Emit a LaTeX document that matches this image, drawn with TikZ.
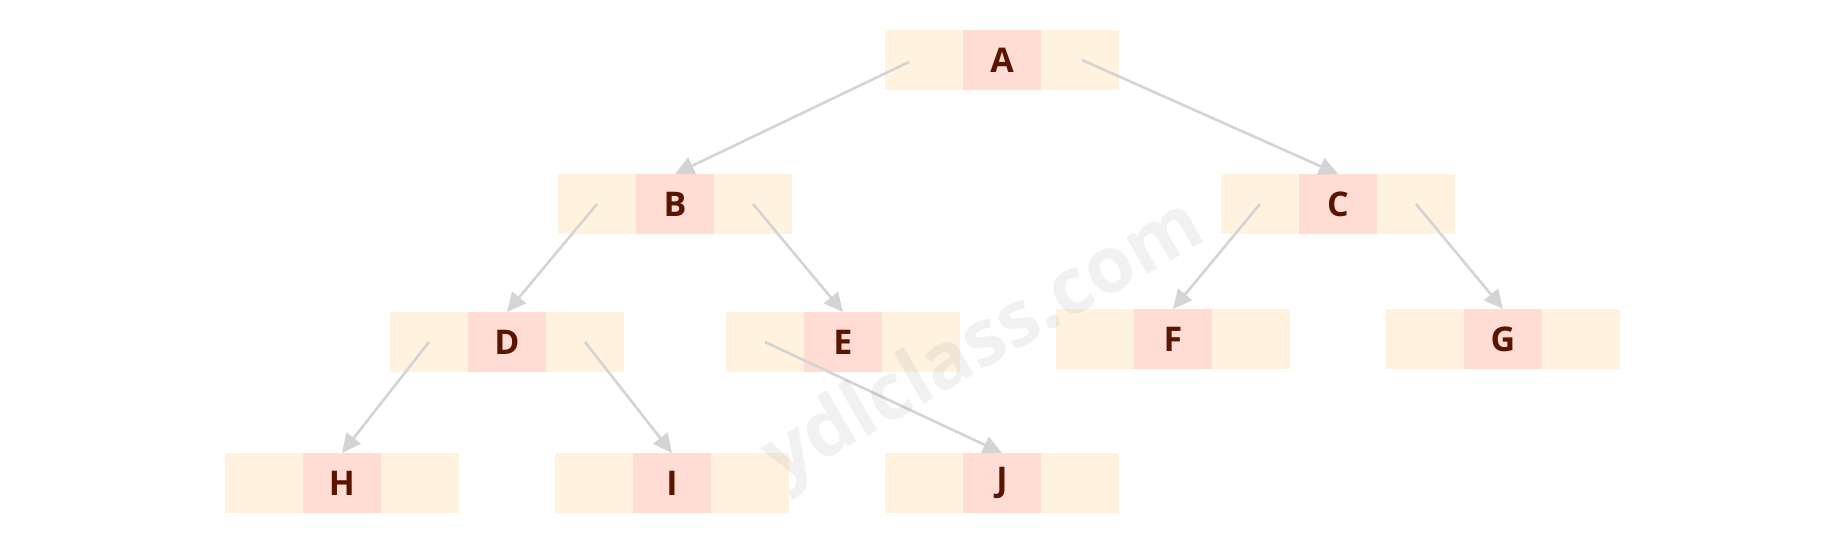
\documentclass[tikz,border=0pt]{standalone}
\usepackage{fontspec}
\setmainfont{Open Sans}
\usetikzlibrary{arrows.meta}
\definecolor{sidefill}{HTML}{FFF3E0}
\definecolor{midfill}{HTML}{FFDDD5}
\definecolor{lettercol}{HTML}{5A1500}
\definecolor{edgecol}{HTML}{D4D4D4}
\definecolor{wmcol}{HTML}{9A9A9A}
\tikzset{
  cellside/.style={fill=sidefill, minimum width=78pt, minimum height=60pt, inner sep=0pt, outer sep=0pt},
  cellmid/.style={fill=midfill, minimum width=78pt, minimum height=60pt, inner sep=0pt, outer sep=0pt,
    text=lettercol, font=\fontsize{34}{36}\selectfont\bfseries},
  edge/.style={draw=edgecol, line width=2.6pt, -{Triangle[length=19pt,width=18pt]}},
}
\newcommand\mktnode[3]{%
  \node[cellmid] (#1) at (#2) {#3};
  \node[cellside, anchor=east] (#1-l) at (#1.west) {};
  \node[cellside, anchor=west] (#1-r) at (#1.east) {};
}
\begin{document}
\begin{tikzpicture}[x=1pt,y=-1pt]
\useasboundingbox (0,0) rectangle (1842,543);
\mktnode{A}{1002,60}{A}
\mktnode{B}{675,204}{B}
\mktnode{C}{1338,204}{C}
\mktnode{D}{507,342}{D}
\mktnode{E}{843,342}{E}
\mktnode{F}{1173,339}{F}
\mktnode{G}{1503,339}{G}
\mktnode{H}{342,483}{H}
\mktnode{I}{672,483}{I}
\mktnode{J}{1002,483}{J}
\draw[edge] ([xshift=-15pt,yshift=-2pt]A-l.center) -- (B.north);
\draw[edge] ([xshift=2pt]A-r.center) -- (C.north);
\draw[edge] (B-l.center) -- (D.north);
\draw[edge] (B-r.center) -- (E.north);
\draw[edge] (C-l.center) -- (F.north);
\draw[edge] (C-r.center) -- (G.north);
\draw[edge] (D-l.center) -- (H.north);
\draw[edge] (D-r.center) -- (I.north);
\draw[edge] (E-l.center) -- (J.north);
\node[rotate=30, text=wmcol, opacity=0.14, font=\fontsize{78}{78}\selectfont\bfseries] (wm) at (985,345) {ydlclass.com};
\end{tikzpicture}
\end{document}
